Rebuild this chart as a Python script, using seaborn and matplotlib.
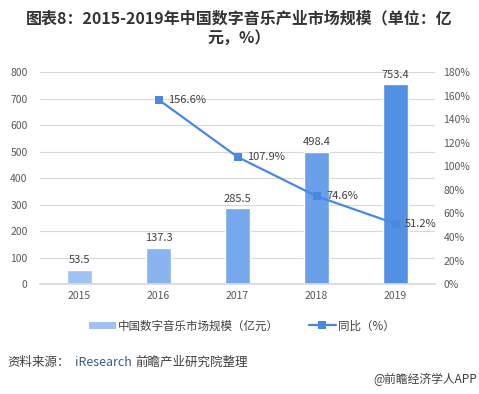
import numpy as np
import pandas as pd
import matplotlib
matplotlib.use("Agg")
import matplotlib.pyplot as plt
import matplotlib.ticker as ticker
from matplotlib.patches import Patch
from matplotlib.lines import Line2D
import seaborn as sns

# data
years = ["2015", "2016", "2017", "2018", "2019"]
market_size = [53.5, 137.3, 285.5, 498.4, 753.4]        # 亿元
growth_years = ["2016", "2017", "2018", "2019"]
growth_pct = [156.6, 107.9, 74.6, 51.2]                 # %
bar_colors = ["#9ec3f2", "#8ab4ef", "#76a8ec", "#6a9fe9", "#5290e3"]
line_color = "#4a88e0"
text_color = "#404040"

sns.set_theme(style="white")
plt.rcParams["font.family"] = ["Noto Sans CJK SC", "DejaVu Sans"]

fig = plt.figure(figsize=(4.79, 3.94), dpi=100)
ax = fig.add_axes([0.0835, 0.279, 0.825, 0.538])

df = pd.DataFrame({"year": years, "size": market_size})
sns.barplot(data=df, x="year", y="size", hue="year", palette=bar_colors,
            width=0.32, legend=False, ax=ax, saturation=1)

ax.set_ylim(0, 800)
ax.yaxis.set_major_locator(ticker.MultipleLocator(100))
ax.grid(axis="y", color="#d9d9d9", linewidth=0.8)
ax.set_axisbelow(True)
ax.set_xlabel("")
ax.set_ylabel("")
for s in ax.spines.values():
    s.set_visible(False)
ax.spines["bottom"].set_visible(True)
ax.spines["bottom"].set_color("#d9d9d9")
ax.tick_params(axis="both", labelsize=7.5, colors="#595959", length=0)
ax.tick_params(axis="x", pad=5)
ax.tick_params(axis="y", pad=9)

for i, v in enumerate(market_size):
    ax.text(i, v + 18, f"{v:.1f}", ha="center", va="bottom", fontsize=8, color=text_color)

# growth line on the secondary axis
ax2 = ax.twinx()
xpos = [years.index(y) for y in growth_years]
sns.lineplot(x=xpos, y=growth_pct, ax=ax2, color=line_color, linewidth=1.6,
             marker="s", markersize=5.5, markeredgewidth=0)
ax2.set_ylim(0, 180)
ax2.yaxis.set_major_locator(ticker.MultipleLocator(20))
ax2.yaxis.set_major_formatter(ticker.FuncFormatter(lambda v, p: f"{v:.0f}%"))
ax2.tick_params(axis="y", labelsize=7.5, colors="#595959", length=0, pad=6)
for s in ax2.spines.values():
    s.set_visible(False)
ax2.grid(False)
ax.set_xlim(-0.5, 4.5)

for x, v in zip(xpos, growth_pct):
    ax2.text(x + 0.12, v, f"{v:.1f}%", ha="left", va="center", fontsize=8, color=text_color)

# title
fig.text(0.5, 0.953, "图表8：2015-2019年中国数字音乐产业市场规模（单位：亿",
         ha="center", va="center", fontsize=11.5, fontweight="bold", color="#333333")
fig.text(0.5, 0.903, "元，%）", ha="center", va="center", fontsize=11.5,
         fontweight="bold", color="#333333")

# legend
handles = [Patch(facecolor=bar_colors[0], edgecolor="none"),
           Line2D([0], [0], color=line_color, linewidth=1.6, marker="s",
                  markersize=5.5, markeredgewidth=0)]
fig.legend(handles, ["中国数字音乐市场规模（亿元）", "同比（%）"],
           loc="center", bbox_to_anchor=(0.505, 0.173), ncol=2, frameon=False,
           fontsize=8.3, handlelength=2.3, handleheight=0.6, columnspacing=2.6,
           handletextpad=0.2, labelcolor=text_color)

# source and watermark
fig.text(0.015, 0.081, "资料来源：", ha="left", va="center", fontsize=9, color=text_color)
fig.text(0.157, 0.081, "iResearch", ha="left", va="center", fontsize=9, color="#3b5b8a")
fig.text(0.283, 0.081, "前瞻产业研究院整理", ha="left", va="center", fontsize=9, color=text_color)
fig.text(0.997, 0.036, "@前瞻经济学人APP", ha="right", va="center", fontsize=8.5, color=text_color)

fig.savefig("out.png", dpi=100)
